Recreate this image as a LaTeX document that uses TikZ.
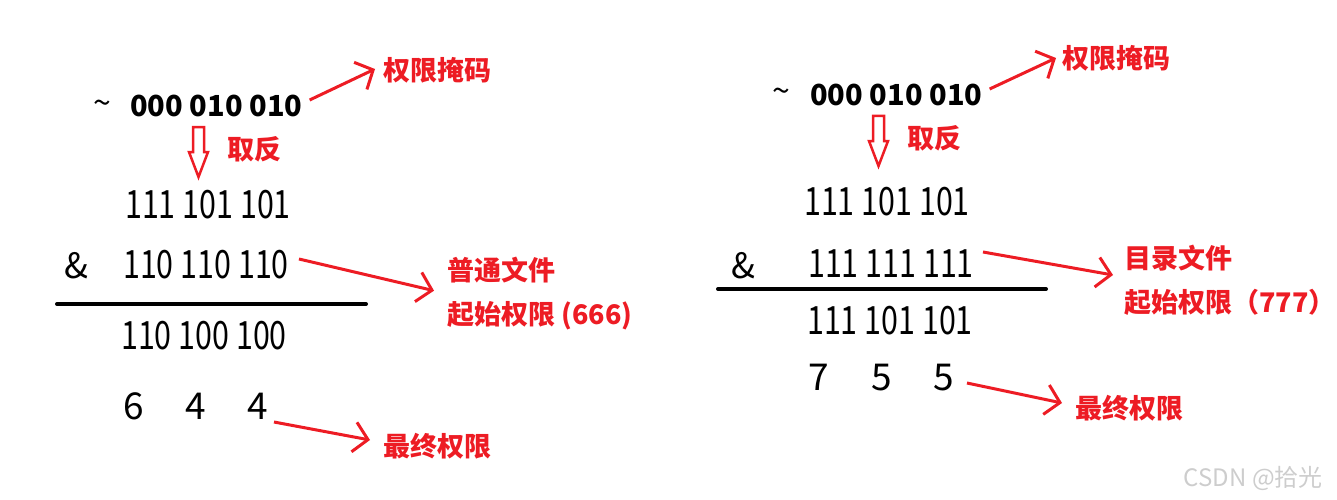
\documentclass[tikz,border=0pt]{standalone}
\usepackage{fontspec}
\setmainfont{Noto Sans CJK SC}
\newfontfamily\bitfont[FakeStretch=0.78]{Noto Sans CJK SC}
\definecolor{markred}{RGB}{237, 28, 36}
\definecolor{wmgray}{RGB}{205, 205, 205}
\usepackage{tikz}
\usetikzlibrary{arrows.meta, positioning, calc}

\tikzset{
  bits/.style={inner sep=0pt, anchor=west, font=\bitfont\fontsize{39}{39}\selectfont},
  maskbits/.style={inner sep=0pt, anchor=west, font=\bfseries\fontsize{29}{29}\selectfont},
  tilde/.style={inner sep=0pt, font=\fontsize{32}{32}\selectfont},
  digit/.style={inner sep=0pt, font=\fontsize{37}{37}\selectfont},
  note/.style={inner sep=0pt, anchor=west, text=markred, font=\bfseries\fontsize{27}{27}\selectfont},
  notepair/.style={inner sep=0pt, anchor=north west, align=left, text=markred, font=\bfseries\fontsize{27}{44}\selectfont},
  pointer/.style={markred, line width=3pt, -{Straight Barb[length=14pt, width=30pt]}},
  hollow/.style={markred, line width=2.5pt, line join=miter},
  rule/.style={black, line width=4pt, line cap=round}
}

\begin{document}
\begin{tikzpicture}[x=1pt, y=-1pt]
                \useasboundingbox (0,0) rectangle (1337,500);

                % Left: regular file
                \node[tilde] (tl) at (102.5,107) {\textasciitilde};
                \node[maskbits] (ml) at (130,105.5) {000 010 010};
                \node[note] (maskl) at (383,70) {权限掩码};
                \node[note] (invl) at (227,149) {取反};
                \node[bits] (al) at (125,204.5) {111 101 101};
                \node[inner sep=0pt, anchor=west, font=\fontsize{35}{35}\selectfont] (andl) at (64,266) {\&};
                \node[bits] (bl) at (123,264.5) {110 110 110};
                \node[bits] (rl) at (121,335.5) {110 100 100};
                \foreach \x/\d [count=\i] in {134/6, 195.5/4, 257.5/4} {
                    \node[digit] (dl\i) at (\x,406) {\d};
                }
                \node[notepair] (filel) at (447,257) {普通文件\\起始权限 (666)};
                \node[note] (finall) at (383,446) {最终权限};

                \draw[rule] (57,304) -- (366,304);
                \draw[pointer] ([shift={(7,-5.5)}]ml.east) -- ([shift={(-8,-1)}]maskl.west);
                \draw[pointer] ([shift={(10,-5.5)}]bl.east) -- ([shift={(-13,-3)}]filel.west);
                \draw[pointer] ([shift={(6,16)}]dl3.east) -- ([shift={(-13,-6)}]finall.west);

                % Right: directory
                \node[tilde] (tr) at (781.5,95) {\textasciitilde};
                \node[maskbits] (mr) at (810,95) {000 010 010};
                \node[note] (maskr) at (1062,58) {权限掩码};
                \node[note] (invr) at (907,138.5) {取反};
                \node[bits] (ar) at (804,201.5) {111 101 101};
                \node[inner sep=0pt, anchor=west, font=\fontsize{35}{35}\selectfont] (andr) at (731,266) {\&};
                \node[bits] (br) at (808,263.5) {111 111 111};
                \node[bits] (rr) at (807,320.5) {111 101 101};
                \foreach \x/\d [count=\i] in {818.5/7, 881.5/5, 943.5/5} {
                    \node[digit] (dr\i) at (\x,377.5) {\d};
                }
                \node[notepair] (filer) at (1124,245) {目录文件\\起始权限（777）};
                \node[note] (finalr) at (1075,408.5) {最终权限};

                \draw[rule] (718,289) -- (1046,289);
                \draw[pointer] ([shift={(7,-6)}]mr.east) -- ([shift={(-6,0)}]maskr.west);
                \draw[pointer] ([shift={(9,-11.5)}]br.east) -- ([shift={(-11,-5.4)}]filer.west);
                \draw[pointer] ([shift={(13,5.5)}]dr3.east) -- ([shift={(-13,-5.5)}]finalr.west);

                % Hollow arrows (invert)
                \foreach \cx/\top in {198.5/127, 878.5/116} {
                    \draw[hollow] (\cx-5.5,\top) -- (\cx+5.5,\top) -- (\cx+5.5,\top+25)
                        -- (\cx+9.5,\top+25) -- (\cx,\top+50) -- (\cx-9.5,\top+25)
                        -- (\cx-5.5,\top+25) -- cycle;
                }

                % Watermark
                \node[inner sep=0pt, anchor=east, text=wmgray, font=\fontsize{24}{24}\selectfont] (wm) at (1323,478) {CSDN @拾光};
            \end{tikzpicture}
\end{document}
